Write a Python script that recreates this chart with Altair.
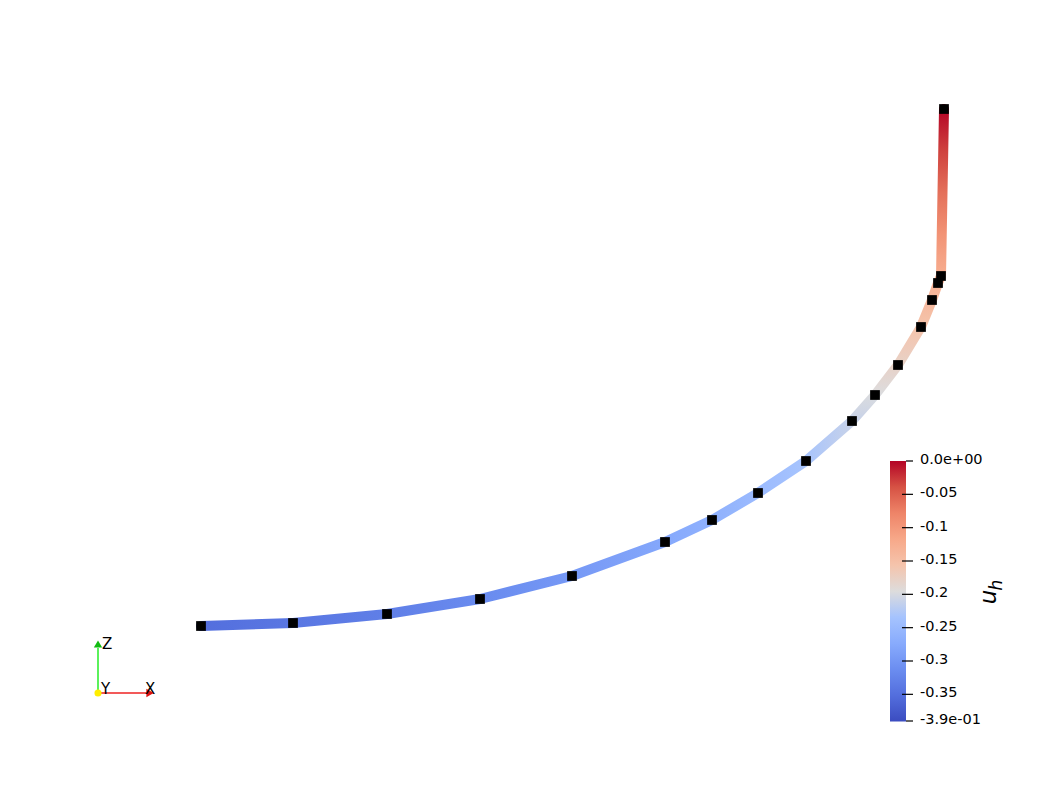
import altair as alt
import pandas as pd

# ---------------- data ----------------
# projected node positions of the 1D mesh (screen units, y grows downward)
node_x = [201, 293, 387, 480, 572, 665, 712, 758, 806, 852, 875, 898, 921, 932, 938, 941, 944]
node_y = [626, 623, 614, 599, 576, 542, 520, 493, 461, 421, 395, 365, 327, 300, 283, 276, 109]
# nodal values of u_h
u_h = [-0.35, -0.34, -0.33, -0.315, -0.297, -0.277, -0.263, -0.248, -0.232,
       -0.21, -0.197, -0.178, -0.155, -0.14, -0.13, -0.125, 0.0]

cbar_ticks = [0.0, -0.05, -0.1, -0.15, -0.2, -0.25, -0.3, -0.35, -0.39]
cbar_labels = ["0.0e+00", "-0.05", "-0.1", "-0.15", "-0.2", "-0.25", "-0.3", "-0.35", "-3.9e-01"]

VMIN, VMAX = -0.39, 0.0

# Cool to Warm colour map (low -> high)
COOLWARM = ["#3b4cc0", "#536edd", "#6b8df0", "#88abfd", "#a5c3fe", "#dddcdc",
            "#f5c4ac", "#f7a889", "#ee8468", "#d65244", "#b40426"]


def _hex2rgb(h):
    h = h.lstrip("#")
    return [int(h[i:i + 2], 16) for i in (0, 2, 4)]


def cmap(v):
    t = (v - VMIN) / (VMAX - VMIN)
    t = min(max(t, 0.0), 1.0)
    n = len(COOLWARM) - 1
    k = min(int(t * n), n - 1)
    f = t * n - k
    a, b = _hex2rgb(COOLWARM[k]), _hex2rgb(COOLWARM[k + 1])
    c = [round(a[j] + (b[j] - a[j]) * f) for j in range(3)]
    return "#%02x%02x%02x" % tuple(c)


XS = alt.Scale(domain=[8, 1049], range=[0, 1041])
YS = alt.Scale(domain=[8, 785], range=[0, 777])

layers = []

# ---------------- curve segments with colour gradients ----------------
for i in range(len(node_x) - 1):
    seg = pd.DataFrame({"x": [node_x[i]], "y": [node_y[i]],
                        "x2": [node_x[i + 1]], "y2": [node_y[i + 1]]})
    dx = node_x[i + 1] - node_x[i]
    dy = node_y[i + 1] - node_y[i]
    if abs(dx) >= abs(dy):
        gx1 = 0 if dx > 0 else 1
        gx2, gy1, gy2 = 1 - gx1, 0, 0
    else:
        gy1 = 0 if dy > 0 else 1
        gy2, gx1, gx2 = 1 - gy1, 0, 0
    stops = []
    for s in range(5):
        o = s / 4
        v = u_h[i] + (u_h[i + 1] - u_h[i]) * o
        stops.append(alt.GradientStop(color=cmap(v), offset=o))
    grad = alt.LinearGradient(gradient="linear", stops=stops,
                              x1=gx1, x2=gx2, y1=gy1, y2=gy2)
    layers.append(
        alt.Chart(seg).mark_rule(stroke=grad, strokeWidth=10, strokeCap="round").encode(
            x=alt.X("x:Q", scale=XS, axis=None),
            y=alt.Y("y:Q", scale=YS, axis=None),
            x2="x2:Q", y2="y2:Q")
    )

# ---------------- nodes ----------------
nodes = pd.DataFrame({"x": node_x, "y": node_y, "u_h": u_h})
layers.append(
    alt.Chart(nodes).mark_square(size=95, color="black", opacity=1, filled=True).encode(
        x=alt.X("x:Q", scale=XS, axis=None),
        y=alt.Y("y:Q", scale=YS, axis=None))
)

# ---------------- colour bar ----------------
bar_grad = alt.LinearGradient(
    gradient="linear",
    stops=[alt.GradientStop(color=c, offset=1 - k / (len(COOLWARM) - 1))
           for k, c in enumerate(COOLWARM)][::-1],
    x1=0, x2=0, y1=0, y2=1)
layers.append(
    alt.Chart(pd.DataFrame({"a": [0]})).mark_rect(fill=bar_grad).encode(
        x=alt.value(882), x2=alt.value(898), y=alt.value(453), y2=alt.value(713.5))
)

CB = alt.Scale(domain=[VMIN, VMAX], range=[713, 453])
cbar = pd.DataFrame({"v": cbar_ticks, "label": cbar_labels})
cbar_end = cbar.iloc[[0, len(cbar) - 1]]
cbar_mid = cbar.iloc[1:len(cbar) - 1]
layers.append(
    alt.Chart(cbar_end).mark_rule(color="black", strokeWidth=1.2).encode(
        y=alt.Y("v:Q", scale=CB, axis=None),
        x=alt.value(898), x2=alt.value(905))
)
layers.append(
    alt.Chart(cbar_mid).mark_rule(color="black", strokeWidth=1.2).encode(
        y=alt.Y("v:Q", scale=CB, axis=None),
        x=alt.value(894), x2=alt.value(905))
)
layers.append(
    alt.Chart(cbar).mark_text(align="left", baseline="middle", font="DejaVu Sans",
                              fontSize=14.5, color="black", dy=-1).encode(
        y=alt.Y("v:Q", scale=CB, axis=None),
        x=alt.value(912),
        text="label:N")
)
# colour bar title u_h
layers.append(
    alt.Chart(pd.DataFrame({"t": ["u"]})).mark_text(
        angle=270, fontSize=23, fontStyle="italic", font="DejaVu Sans",
        align="center", baseline="alphabetic", color="black").encode(
        x=alt.value(988), y=alt.value(589), text="t:N")
)
layers.append(
    alt.Chart(pd.DataFrame({"t": ["h"]})).mark_text(
        angle=270, fontSize=17, fontStyle="italic", font="DejaVu Sans",
        align="center", baseline="alphabetic", color="black").encode(
        x=alt.value(994), y=alt.value(577), text="t:N")
)

# ---------------- orientation triad ----------------
layers.append(
    alt.Chart(pd.DataFrame({"a": [0]})).mark_rule(color="#33ee33", strokeWidth=1.6).encode(
        x=alt.value(90), y=alt.value(685), y2=alt.value(640))
)
layers.append(
    alt.Chart(pd.DataFrame({"a": [0]})).mark_rule(color="#ee2222", strokeWidth=1.6).encode(
        x=alt.value(90), x2=alt.value(138), y=alt.value(685))
)
layers.append(
    alt.Chart(pd.DataFrame({"a": [0]})).mark_point(
        shape="triangle-up", filled=True, color="#11bb11", opacity=1, size=70).encode(
        x=alt.value(90), y=alt.value(636))
)
layers.append(
    alt.Chart(pd.DataFrame({"a": [0]})).mark_point(
        shape="triangle-right", filled=True, color="#dd1111", opacity=1, size=70).encode(
        x=alt.value(142), y=alt.value(685))
)
layers.append(
    alt.Chart(pd.DataFrame({"a": [0]})).mark_point(
        shape="circle", filled=True, color="#ffee00", opacity=1, size=50).encode(
        x=alt.value(90), y=alt.value(685))
)
triad_t = ["Z", "Y", "X"]
triad_px = [94, 93, 137]
triad_py = [636, 681, 681]
for t, px, py in zip(triad_t, triad_px, triad_py):
    layers.append(
        alt.Chart(pd.DataFrame({"t": [t]})).mark_text(
            align="left", baseline="middle", font="DejaVu Sans", fontSize=15,
            color="black").encode(
            x=alt.value(px), y=alt.value(py), text="t:N")
    )

chart = alt.layer(*layers).resolve_scale(x="independent", y="independent").properties(
    width=1041, height=777, autosize=alt.AutoSizeParams(type="none"), padding=0,
    background="white"
).configure_view(stroke=None)

chart.save("out.html", embed_options={"renderer": "svg", "actions": False})
